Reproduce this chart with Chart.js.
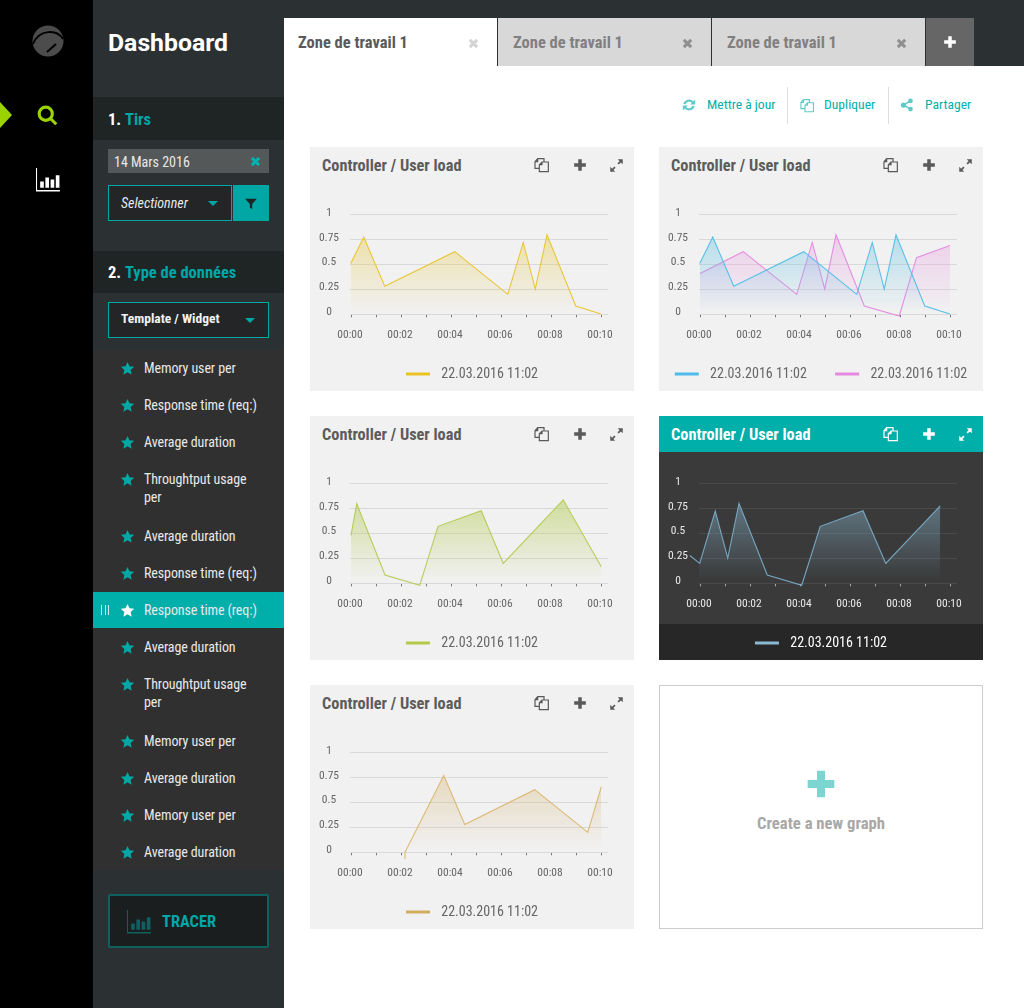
<!DOCTYPE html>
<html><head><meta charset="utf-8">
<script src="https://cdn.jsdelivr.net/npm/chart.js@4"></script>
<style>
*{box-sizing:border-box;margin:0;padding:0}
html,body{width:1024px;height:1008px;overflow:hidden;background:#fff;font-family:Roboto,sans-serif;font-stretch:75%}
.a{position:absolute;white-space:nowrap;line-height:1}
svg{position:absolute;display:block}
.card{position:absolute;width:324px;height:244px;background:#f1f1f1}
.card canvas{position:absolute;left:-40px;top:50px}
.card .t{position:absolute;left:12px;top:9px;font-size:16.300px;font-weight:700;color:#5c5c5c;line-height:20px}
.dark{background:#3a3a3a}
.dark .hd{position:absolute;left:0;top:0;width:324px;height:36px;background:#00aeaa}
.dark .ft{position:absolute;left:0;bottom:0;width:324px;height:36px;background:#272727}
.dark .t{color:#fff}
.li{position:absolute;left:144px;width:122px;color:#e9e9e9;font-size:14px;letter-spacing:-.1px;line-height:18px}
</style></head><body>
<div id="root"></div>
<script>
const chartTitle='Controller / User load';
const legendLabel='22.03.2016 11:02';
const xTickLabels=['00:00','','00:02','','00:04','','00:06','','00:08','','00:10'];
const yTickLabels=['0','0.25','0.5','0.75','1'];

const yellowMinutes=[-0.01,0.51,1.35,4.15,6.27,6.89,7.37,7.84,8.99,10];
const yellowValues=[0.51,0.777,0.283,0.63,0.2,0.723,0.253,0.8,0.083,0.003];
const blueMinutes=[-0.01,0.51,1.35,4.15,6.27,6.89,7.37,7.84,8.99,10];
const blueValues=[0.51,0.777,0.283,0.63,0.2,0.723,0.253,0.8,0.083,0.003];
const pinkMinutes=[0,1.73,3.87,4.49,4.99,5.44,6.57,7.97,8.66,10];
const pinkValues=[0.41,0.63,0.2,0.723,0.253,0.8,0.083,-0.017,0.57,0.693];
const greenMinutes=[0,0.23,1.36,2.75,3.48,5.21,6.09,8.49,10.01];
const greenValues=[0.483,0.8,0.083,-0.02,0.573,0.73,0.2,0.84,0.167];
const steelMinutes=[-0.41,-0.01,0.61,1.11,1.56,2.69,4.07,4.81,6.52,7.43,9.61];
const steelValues=[0.28,0.2,0.727,0.253,0.803,0.083,-0.02,0.573,0.73,0.2,0.78];
const tanMinutes=[2.16,2.16,3.71,4.55,7.35,9.47,10.01];
const tanValues=[-0.067,0,0.773,0.28,0.63,0.2,0.657];

const navItems=[['Memory user per',368],['Response time (req:)',405],['Average duration',442],['Throughtput usage per',470,1],['Average duration',536],['Response time (req:)',573],['Response time (req:)',610,0,1],['Average duration',647],['Throughtput usage per',675,1],['Memory user per',741],['Average duration',778],['Memory user per',815],['Average duration',852]];

const root=document.getElementById('root');
function box(l,t,w,h,bg,extra){const d=document.createElement('div');d.style.cssText=`position:absolute;left:${l}px;top:${t}px;width:${w}px;height:${h}px;background:${bg};${extra||''}`;root.appendChild(d);return d}
function txt(s,l,cy,size,color,extra,parent){const d=document.createElement('div');d.className='a';d.textContent=s;d.style.cssText=`left:${l}px;top:${cy-size/2}px;font-size:${size}px;color:${color};${extra||''}`;(parent||root).appendChild(d);return d}
const I={
star:'<path d="M12 1.5l3.2 6.9 7.5.9-5.6 5.1 1.5 7.4L12 18.1l-6.6 3.7 1.5-7.4L1.300 9.300l7.500-.9z"/>',
x:'<path fill="none" stroke="currentColor" stroke-width="6.500" d="M4 4l16 16M20 4L4 20"/>',
plus:'<path d="M9 2h6v7h7v6h-7v7H9v-7H2V9h7z"/>',
filter:'<path d="M2 3h20l-8 9v9l-4-3v-6z"/>',
expand:'<path d="M14 2h8v8l-3-3-3.500 3.500-2-2L17 5zM10 22H2v-8l3 3 3.500-3.500 2 2L7 19z"/>',
copy:'<path fill="none" stroke="currentColor" stroke-width="1.800" d="M10 2.500H5.500L1.500 7v10H8V11.500L12 7.500h3V2.500zM5.500 2.500V7H1.500M15 7.500h6.500v14.500H8V17M12 7.500v4H8"/>',
share:'<circle cx="18" cy="5" r="4"/><circle cx="6" cy="12" r="4.500"/><circle cx="18" cy="19" r="4"/><path stroke="currentColor" stroke-width="2.500" fill="none" d="M18 5L6 12l12 7"/>',
refresh:'<path fill="none" stroke="currentColor" stroke-width="3.800" d="M4 10.500A8.500 8.500 0 0 1 18.500 7.500M20 13.500A8.500 8.500 0 0 1 5.500 16.500"/><path d="M22.500 2.500v8.500h-8.500zM1.500 21.500V13h8.500z"/>',
bars:'<path d="M1 1v21h22v1.500H0V1zM4 14h3.500v6H4zM9 10h3.500v10H9zM14 12h3.500v8H14zM19 8h3.500v12H19z"/>',
search:'<path fill="none" stroke="currentColor" stroke-width="3.600" d="M16 16l6 6"/><circle cx="10" cy="10" r="7.500" fill="none" stroke="currentColor" stroke-width="3.600"/>'
};
function ico(n,cx,cy,s,color,parent){const d=document.createElementNS('http://www.w3.org/2000/svg','svg');d.setAttribute('viewBox','0 0 24 24');d.setAttribute('width',s);d.setAttribute('height',s);d.style.cssText=`left:${cx-s/2}px;top:${cy-s/2}px;color:${color};fill:${color}`;d.innerHTML=I[n];(parent||root).appendChild(d);return d}
function tri(cx,cy,w,h,color){const d=box(cx-w,cy-h/2,0,0,'transparent',`border-left:${w}px solid transparent;border-right:${w}px solid transparent;border-top:${h}px solid ${color};`);return d}

// shell
box(0,0,93,1008,'#000');
box(93,0,191,1008,'#2b3132');
box(284,0,740,18,'#2b3132');
box(284,18,213,48,'#fff');
box(497,18,1,48,'#2b3132');
box(498,18,213,48,'#d8d8d8');
box(711,18,1,48,'#2b3132');
box(712,18,213,48,'#d8d8d8');
box(925,18,1,48,'#2b3132');
box(926,18,48,48,'#666');
box(974,18,50,48,'#2b3132');
[[298,'#5a5a5a',473,'#d4d4d4'],[513,'#808080',687,'#8f8f8f'],[727,'#808080',901,'#8f8f8f']].forEach(a=>{
 txt('Zone de travail 1',a[0],43,16.500,a[1],'font-weight:700');ico('x',a[2],43,11,a[3]);
});
ico('plus',950,42,14,'#fff');
// rail
const logo=document.createElementNS('http://www.w3.org/2000/svg','svg');logo.setAttribute('viewBox','0 0 32 32');logo.setAttribute('width',32);logo.setAttribute('height',32);logo.style.cssText='left:32px;top:25px';
logo.innerHTML='<circle cx="16" cy="16" r="15.500" fill="#4c4c4c"/><path d="M1 19C7 4 25 4 31 14" fill="none" stroke="#000" stroke-width="2"/><path d="M15 27l9-8" stroke="#000" stroke-width="2"/>';root.appendChild(logo);
box(0,102,0,0,'transparent','border-left:12px solid #9ad300;border-top:13px solid transparent;border-bottom:13px solid transparent;');
ico('search',47.500,115,21,'#9ad300');
ico('bars',48,179,25,'#fff');
// sidebar
txt('Dashboard',108,43,24.800,'#fff','font-weight:700;font-stretch:100%');
box(93,97,191,43,'#1f2425');
txt('1. ',108,120,16.500,'#fff','font-weight:700');txt('Tirs',125,120,16.500,'#00a7a5','font-weight:700');
box(108,149,161,24,'#545859');
txt('14 Mars 2016',114,162,14,'#e9e9e9');
ico('x',255.500,161.500,11,'#00b3ae');
box(108,185,124,36,'#232526','border:1px solid #00a7a5');
txt('Selectionner',121,202.500,14,'#e9e9e9','font-style:italic');
tri(213,203,5,5,'#00a7a5');
box(233,185,36,36,'#00a7a5');
ico('filter',251,204,14,'#1f2425');
box(93,251,191,42,'#1f2425');
txt('2. ',108,273,16.500,'#fff','font-weight:700');txt('Type de données',125,273,16.500,'#00a7a5','font-weight:700');
box(108,302,161,36,'#232526','border:1px solid #00a7a5');
txt('Template / Widget',121,319,13.500,'#f2f2f2','font-weight:700');
tri(250,320,5,5,'#00a7a5');
box(93,350,191,520,'#303030');
box(93,592,191,36,'#00aeaa');
['','',''].forEach((_,i)=>box(101+i*3.500,605,1,10,'#cfeeed'));
navItems.forEach(n=>{
 const d=document.createElement('div');d.className='li';d.textContent=n[0];d.style.top=(n[2]?n[1]:n[1]-9)+'px';root.appendChild(d);
 ico('star',127,n[2]?n[1]+9:n[1],15,n[3]?'#fff':'#00a7a5');
});
box(108,894,161,54,'#1b1e1f','border:2px solid #0d6160;border-radius:2px');
ico('bars',139.500,921,25,'#0d6160');
txt('TRACER',162,922,16.400,'#00a7a5','font-weight:700');
// action bar
const teal='#00b0ac';
ico('refresh',689,105,14,'#5fcbc8');txt('Mettre à jour',707,105,13.600,teal);
box(787,87,1,37,'#ddd');
ico('copy',807,105,15,'#5fcbc8');txt('Dupliquer',824,105,13.600,teal);
box(888,87,1,37,'#ddd');
ico('share',907,105,14,'#5fcbc8');txt('Partager',925,105,13.600,teal);

const gridLight='#d9d9d9',gridDark='#4a4a4a';
function card(l,t,series,dark){
 const c=document.createElement('div');c.className='card'+(dark?' dark':'');c.style.left=l+'px';c.style.top=t+'px';root.appendChild(c);
 if(dark){c.innerHTML='<div class="hd"></div><div class="ft"></div>'}
 const tt=document.createElement('div');tt.className='t';tt.textContent=chartTitle;c.appendChild(tt);
 const ic=dark?'#fff':'#5a5a5a';
 ico('copy',232,18,16,ic,c);ico('plus',270,18,14,ic,c);ico('expand',306,18,15,ic,c);
 const cv=document.createElement('canvas');cv.width=404;cv.height=194;cv.style.width='404px';cv.style.height='194px';c.appendChild(cv);
 const txtCol=dark?'#e8e8e8':'#666';
 new Chart(cv,{type:'line',
  data:{datasets:series.map(s=>({label:legendLabel,data:s.x.map((v,i)=>({x:v,y:s.y[i]})),yAxisID:'y',borderColor:s.line,legendColor:s.legend,borderWidth:1.100,pointRadius:0,tension:0,clip:false,fill:'origin',
    backgroundColor:ctx=>{const a=ctx.chart.chartArea;if(!a)return 'transparent';const sy=ctx.chart.scales.y;const g=ctx.chart.ctx.createLinearGradient(0,sy.getPixelForValue(0.85),0,sy.getPixelForValue(0.03));g.addColorStop(0,s.top);g.addColorStop(1,s.bot);return g}}))},
  options:{responsive:false,animation:false,devicePixelRatio:1,
   layout:{padding:{top:16,right:0,left:0,bottom:0},autoPadding:false},
   plugins:{tooltip:{enabled:false},title:{display:false},
    legend:{display:true,position:'bottom',onClick:null,labels:{boxWidth:24,boxHeight:3,padding:22,color:dark?'#fff':'#666',font:{family:'Roboto',size:14,weight:'condensed',lineHeight:1.200},
      generateLabels:ch=>ch.data.datasets.map((d,i,all)=>({text:'\u2004'+d.label+(i<all.length-1?'\u2002':''),fillStyle:d.legendColor,strokeStyle:d.legendColor,lineWidth:0,fontColor:dark?'#fff':'#666'}))}}},
   scales:{
    x:{type:'linear',min:-0.04,max:10.28,border:{display:false},
      grid:{drawOnChartArea:false,drawTicks:true,tickLength:3,tickColor:dark?'#aaa':'#777',tickWidth:1},
      afterFit:s=>{s.height=30.700},
      ticks:{stepSize:1,includeBounds:false,autoSkip:false,maxRotation:0,minRotation:0,padding:10.500,labelOffset:-1,color:txtCol,font:{family:'Roboto',size:11.500,weight:'condensed'},callback:(v,i)=>xTickLabels[v]}},
    y:{type:'linear',min:0,max:1,border:{display:false},
      grid:{color:dark?gridDark:gridLight,drawTicks:false,lineWidth:1},
      afterFit:s=>{s.width=80},
      ticks:{stepSize:0.25,padding:11,crossAlign:'center',labelOffset:-2,color:txtCol,font:{family:'Roboto',size:11.500,weight:'condensed'},callback:(v,i)=>yTickLabels[i]}},
    margin:{type:'linear',position:'right',display:true,min:0,max:1,border:{display:false},grid:{display:false,drawTicks:false},ticks:{display:false},afterFit:s=>{s.width=66}}
   }}});
}
const S={
 yellow:{x:yellowMinutes,y:yellowValues,line:'#e8c637',legend:'#e8c226',top:'rgba(232,198,55,.42)',bot:'rgba(232,198,55,0)'},
 blue:{x:blueMinutes,y:blueValues,line:'#57bfe6',legend:'#4dbbeb',top:'rgba(87,191,230,.42)',bot:'rgba(87,191,230,0)'},
 pink:{x:pinkMinutes,y:pinkValues,line:'#e58de0',legend:'#e589e0',top:'rgba(229,141,224,.38)',bot:'rgba(229,141,224,0)'},
 green:{x:greenMinutes,y:greenValues,line:'#b7cc58',legend:'#b2c94a',top:'rgba(176,200,70,.5)',bot:'rgba(176,200,70,0)'},
 steel:{x:steelMinutes,y:steelValues,line:'#76a6c1',legend:'#8cb9d2',top:'rgba(140,185,210,.5)',bot:'rgba(140,185,210,0)'},
 tan:{x:tanMinutes,y:tanValues,line:'#dcb873',legend:'#d2ac5f',top:'rgba(210,172,95,.38)',bot:'rgba(210,172,95,0)'}
};
card(310,147,[S.yellow]);
card(659,147,[S.blue,S.pink]);
card(310,416,[S.green]);
card(659,416,[S.steel],true);
card(310,685,[S.tan]);
box(659,685,324,244,'#fff','border:1px solid #ccc');
ico('plus',821,784,32,'#7dd5d2');
const cg=txt('Create a new graph',659,824,16.700,'#a8a8a8','font-weight:700;width:324px;text-align:center');
</script>
</body></html>
